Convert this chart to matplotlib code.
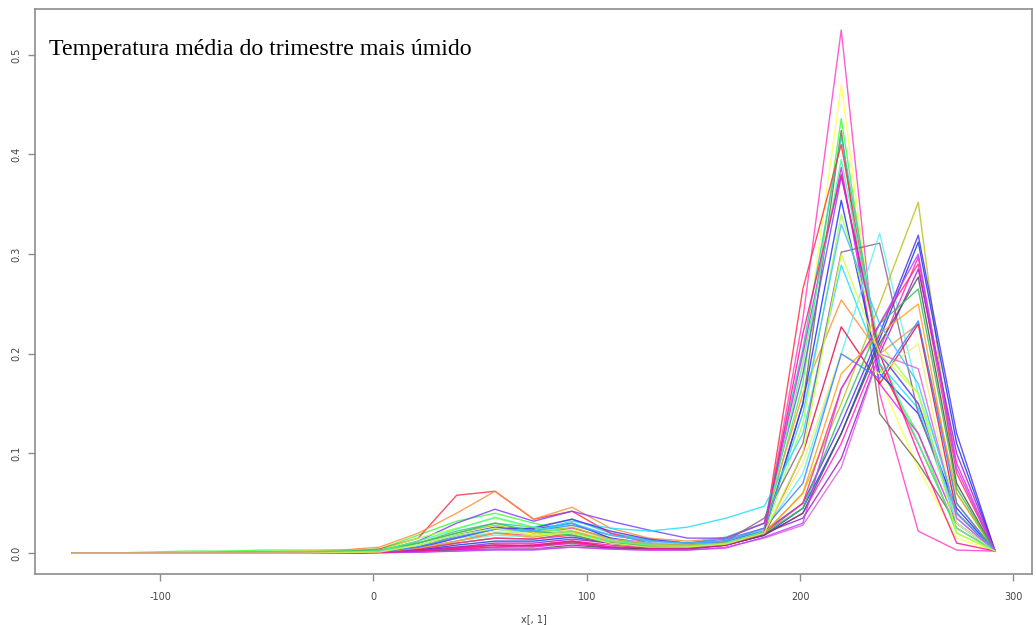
import matplotlib
matplotlib.use("Agg")
import matplotlib.pyplot as plt

# x grid
x_vals = [-141.3, -123.3, -105.2, -87.2, -69.2, -51.2, -33.1, -15.1, 2.9, 21.0,
          39.0, 57.0, 75.1, 93.1, 111.1, 129.2, 147.2, 165.2, 183.2, 201.3,
          219.3, 237.3, 255.4, 273.4, 291.4]

s01 = [0,0,0,0,0,0,0,0.0005, 0.001,0.003,0.006,0.008,0.007,0.010,0.005,0.004,0.005,0.008,0.020, 0.235,0.525,0.160,0.022,0.003,0.002]
s02 = [0,0,0,0,0,0,0.0005,0.001, 0.003,0.012,0.022,0.030,0.020,0.028,0.012,0.008,0.008,0.012,0.025, 0.190,0.470,0.175,0.085,0.015,0.002]
s03 = [0,0,0.001,0.002,0.002,0.003,0.003,0.003, 0.004,0.018,0.032,0.040,0.030,0.022,0.012,0.008,0.007,0.010,0.022, 0.170,0.436,0.185,0.120,0.020,0.002]
s04 = [0,0,0,0,0,0,0,0.0005, 0.001,0.002,0.005,0.008,0.007,0.011,0.006,0.005,0.006,0.012,0.022, 0.150,0.424,0.140,0.090,0.030,0.002]
s05 = [0,0,0,0,0.0005,0.001,0.001,0.001, 0.002,0.010,0.022,0.030,0.026,0.034,0.020,0.013,0.010,0.016,0.030, 0.205,0.418,0.200,0.150,0.035,0.002]
s06 = [0,0,0,0,0,0,0.0005,0.001, 0.004,0.015,0.058,0.062,0.034,0.042,0.020,0.010,0.008,0.010,0.020, 0.265,0.410,0.190,0.110,0.025,0.002]
s07 = [0,0,0,0,0.0005,0.001,0.002,0.003, 0.006,0.020,0.040,0.062,0.034,0.046,0.025,0.015,0.012,0.015,0.030, 0.160,0.254,0.200,0.230,0.060,0.002]
s08 = [0,0,0,0,0,0,0,0.0005, 0.001,0.004,0.012,0.020,0.018,0.025,0.015,0.010,0.008,0.012,0.025, 0.200,0.387,0.170,0.120,0.030,0.002]
s09 = [0,0,0,0,0,0.0005,0.001,0.001, 0.002,0.012,0.030,0.044,0.032,0.042,0.032,0.023,0.015,0.015,0.030, 0.180,0.378,0.200,0.150,0.040,0.002]
s10 = [0,0,0,0,0,0,0,0.0005, 0.001,0.006,0.018,0.026,0.024,0.030,0.015,0.008,0.006,0.010,0.020, 0.150,0.354,0.180,0.140,0.045,0.002]
s11 = [0,0,0,0.0005,0.001,0.001,0.002,0.002, 0.003,0.015,0.025,0.035,0.025,0.018,0.010,0.007,0.006,0.010,0.020, 0.130,0.340,0.210,0.160,0.050,0.002]
s12 = [0,0,0,0,0,0,0,0.0005, 0.001,0.006,0.015,0.020,0.022,0.032,0.025,0.022,0.026,0.035,0.047, 0.120,0.289,0.190,0.145,0.030,0.002]
s13 = [0,0,0,0,0,0,0,0, 0.001,0.004,0.010,0.015,0.014,0.020,0.012,0.008,0.007,0.012,0.035, 0.110,0.302,0.311,0.140,0.040,0.002]
s14 = [0,0,0,0,0,0,0,0.0005, 0.001,0.005,0.012,0.018,0.016,0.022,0.014,0.010,0.009,0.012,0.022, 0.080,0.200,0.321,0.160,0.030,0.002]
s15 = [0,0,0,0,0,0,0,0, 0.001,0.002,0.004,0.006,0.008,0.012,0.006,0.004,0.004,0.008,0.018, 0.100,0.227,0.170,0.230,0.040,0.002]
s16 = [0,0,0,0,0,0,0.0005,0.001, 0.002,0.008,0.015,0.022,0.018,0.024,0.012,0.008,0.007,0.010,0.022, 0.090,0.200,0.180,0.210,0.030,0.002]
s17 = [0,0,0,0,0,0,0.0005,0.001, 0.002,0.010,0.020,0.028,0.020,0.026,0.014,0.009,0.008,0.010,0.020, 0.060,0.150,0.250,0.352,0.060,0.002]
s18 = [0,0,0,0,0,0,0,0.0005, 0.001,0.005,0.015,0.024,0.025,0.034,0.022,0.014,0.010,0.012,0.022, 0.050,0.130,0.220,0.319,0.120,0.002]
s19 = [0,0,0,0,0,0,0,0, 0.001,0.003,0.008,0.012,0.012,0.016,0.010,0.006,0.005,0.008,0.018, 0.045,0.120,0.215,0.312,0.110,0.002]
s20 = [0,0,0,0,0,0,0,0, 0.001,0.002,0.004,0.006,0.006,0.010,0.006,0.004,0.004,0.008,0.018, 0.040,0.110,0.205,0.297,0.090,0.002]
s21 = [0,0,0,0,0,0,0,0.0005, 0.001,0.004,0.010,0.015,0.014,0.018,0.010,0.006,0.006,0.010,0.020, 0.050,0.165,0.230,0.290,0.080,0.002]
s22 = [0,0,0,0,0,0,0,0, 0.001,0.003,0.006,0.010,0.010,0.014,0.010,0.007,0.006,0.010,0.020, 0.035,0.095,0.200,0.285,0.100,0.002]
s23 = [0,0,0,0,0,0,0,0, 0.0005,0.001,0.003,0.004,0.004,0.008,0.005,0.004,0.004,0.008,0.018, 0.040,0.120,0.210,0.277,0.070,0.002]
s24 = [0,0,0,0.0005,0.001,0.001,0.001,0.002, 0.003,0.010,0.020,0.030,0.022,0.018,0.010,0.007,0.006,0.010,0.020, 0.045,0.140,0.230,0.265,0.065,0.002]
s25 = [0,0,0,0,0,0,0,0.0005, 0.001,0.005,0.012,0.020,0.016,0.022,0.012,0.008,0.007,0.010,0.020, 0.060,0.180,0.220,0.250,0.050,0.002]
s26 = [0,0,0,0,0,0,0,0.0005, 0.001,0.006,0.016,0.024,0.022,0.028,0.018,0.012,0.010,0.014,0.025, 0.070,0.200,0.175,0.233,0.050,0.002]
s27 = [0,0,0,0,0,0,0,0, 0.0005,0.001,0.002,0.004,0.004,0.006,0.004,0.003,0.003,0.006,0.015, 0.028,0.086,0.200,0.185,0.035,0.002]
s28 = [0,0,0,0,0,0.0005,0.001,0.001, 0.002,0.012,0.024,0.036,0.026,0.020,0.012,0.008,0.007,0.010,0.022, 0.190,0.395,0.200,0.110,0.025,0.002]
s29 = [0,0,0,0,0,0,0,0.0005, 0.001,0.008,0.018,0.024,0.022,0.030,0.018,0.012,0.010,0.012,0.024, 0.140,0.330,0.230,0.170,0.040,0.002]
s30 = [0,0,0,0,0,0,0,0, 0.0005,0.001,0.002,0.003,0.003,0.006,0.004,0.003,0.003,0.005,0.016, 0.030,0.165,0.230,0.300,0.085,0.002]
s31 = [0,0,0,0,0,0,0,0, 0.0005,0.002,0.005,0.008,0.008,0.012,0.008,0.005,0.005,0.008,0.020, 0.220,0.380,0.200,0.100,0.010,0.002]
s32 = [0,0,0,0,0,0,0,0.0005, 0.001,0.008,0.018,0.025,0.018,0.020,0.010,0.006,0.006,0.009,0.020, 0.100,0.300,0.200,0.160,0.020,0.002]

series = [s01, s02, s03, s04, s05, s06, s07, s08, s09, s10, s11, s12, s13, s14, s15, s16,
          s17, s18, s19, s20, s21, s22, s23, s24, s25, s26, s27, s28, s29, s30, s31, s32]
colors = ["#FF40C8", "#FFFF50", "#40FF40", "#707048", "#30C8B8", "#FF3048", "#FF9040", "#E020F0",
          "#8040FF", "#2030FF", "#A8FF40", "#20E0FF", "#906090", "#60F0F0", "#E0104C", "#F0F070",
          "#C0C020", "#5030F0", "#1040E0", "#FF20D0", "#FF3070", "#A020D0", "#505050", "#30C060",
          "#FFA020", "#4080FF", "#E060E0", "#40FFA0", "#40C0FF", "#C040FF", "#FF1493", "#D0FF40"]

title_text = "Temperatura média do trimestre mais úmido"
x_ticks = [-100, 0, 100, 200, 300]
y_ticks = [0.0, 0.1, 0.2, 0.3, 0.4, 0.5]
y_tick_labels = ["0.0", "0.1", "0.2", "0.3", "0.4", "0.5"]
x_label = "x[, 1]"

fig = plt.figure(figsize=(10.36, 6.25), dpi=100)
ax = fig.add_axes([35/1036, 51/625, 997/1036, 565/625])

for ys, c in zip(series, colors):
    ax.plot(x_vals, ys, color=c, lw=1.0, alpha=0.85)

xmin, xmax = min(x_vals), max(x_vals)
ymax = max(max(s) for s in series)
dx = (xmax - xmin) * 0.04
dy = ymax * 0.04
ax.set_xlim(xmin - dx, xmax + dx)
ax.set_ylim(-dy, ymax + dy)

for sp in ax.spines.values():
    sp.set_color("#8c8c8c")
    sp.set_linewidth(1.2)

ax.set_xticks(x_ticks)
ax.set_xticklabels([str(v) for v in x_ticks])
ax.set_yticks(y_ticks)
ax.set_yticklabels(y_tick_labels, rotation=90, va="center")
ax.tick_params(axis="both", colors="#8c8c8c", labelcolor="#444444", labelsize=7,
               length=5, width=1.0, direction="out")
ax.tick_params(axis="x", pad=8)
ax.tick_params(axis="y", pad=5)
ax.set_xlabel(x_label, fontsize=7, color="#444444", labelpad=9)

ax.text(0.014, 0.918, title_text, transform=ax.transAxes, fontsize=17.2,
        family="Liberation Serif", va="baseline", ha="left", color="black")

fig.savefig("out.png", dpi=100)
